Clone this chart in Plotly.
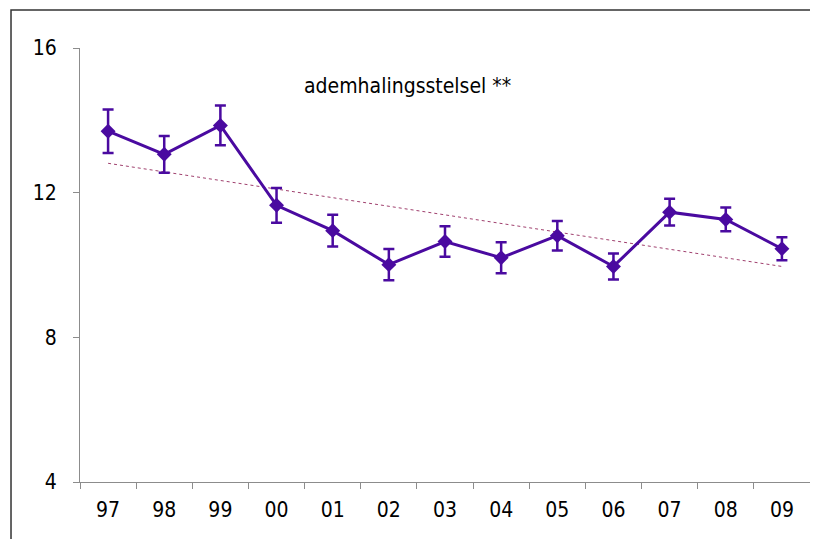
import numpy as np
import plotly.graph_objects as go

# jaren (laatste twee cijfers)
jaren = ['97', '98', '99', '00', '01', '02', '03', '04', '05', '06', '07', '08', '09']
waarden = [13.70, 13.06, 13.86, 11.65, 10.95, 10.01, 10.65, 10.20, 10.81, 9.96, 11.46, 11.26, 10.45]
# halve breedte van de foutbalken
fout = [0.60, 0.51, 0.55, 0.48, 0.44, 0.43, 0.42, 0.43, 0.41, 0.36, 0.37, 0.33, 0.32]
y_ticks = [4, 8, 12, 16]
titel = 'ademhalingsstelsel **'

paars = '#4a0aa0'
lettertype = 'DejaVu Sans Condensed, DejaVu Sans'

# lineaire trendlijn over de reeks
idx = np.arange(len(jaren))
a, b = np.polyfit(idx, waarden, 1)
trend = a * idx + b

fig = go.Figure()

fig.add_trace(go.Scatter(
    x=jaren, y=trend,
    mode='lines',
    line=dict(color='#a0406e', width=1, dash='dot'),
    hoverinfo='skip',
    showlegend=False,
))

fig.add_trace(go.Scatter(
    x=jaren, y=waarden,
    mode='lines+markers',
    line=dict(color=paars, width=3),
    marker=dict(symbol='diamond', size=11.5, color=paars),
    error_y=dict(type='data', array=fout, visible=True,
                 color=paars, thickness=2.5, width=5.5),
    showlegend=False,
))

# 802x531 zodat de pagina (8px body-marge) niet gaat scrollen
fig.update_layout(
    width=802, height=531,
    margin=dict(l=72, r=0, t=40, b=57),
    paper_bgcolor='#ffffff',
    plot_bgcolor='#ffffff',
    font=dict(family=lettertype, size=21, color='#000000'),
    showlegend=False,
    xaxis=dict(
        type='category',
        range=[-0.5, 12.5],
        showgrid=False,
        zeroline=False,
        showline=True,
        linecolor='#8c8c8c',
        linewidth=1,
        ticks='outside',
        tickson='boundaries',
        ticklen=6,
        tickcolor='#8c8c8c',
        tickfont=dict(size=21),
        ticklabelstandoff=9,
    ),
    yaxis=dict(
        range=[4, 16],
        tickvals=y_ticks,
        showgrid=False,
        zeroline=False,
        showline=True,
        linecolor='#8c8c8c',
        linewidth=1,
        ticks='outside',
        ticklen=6,
        tickcolor='#8c8c8c',
        tickfont=dict(size=21),
        ticklabelstandoff=12,
    ),
    annotations=[dict(
        x=0.4486, y=0.9124, xref='paper', yref='paper',
        xanchor='center', yanchor='middle',
        text=titel, showarrow=False,
        font=dict(size=21, color='#000000'),
    )],
    # kader: alleen linker- en bovenrand zichtbaar
    shapes=[dict(
        type='path', xref='paper', yref='paper',
        path='M -0.0945,-0.2 L -0.0945,1.0876 L 1.05,1.0876',
        line=dict(color='#333333', width=1.5),
        layer='below',
    )],
)

fig.write_html("out.html")
